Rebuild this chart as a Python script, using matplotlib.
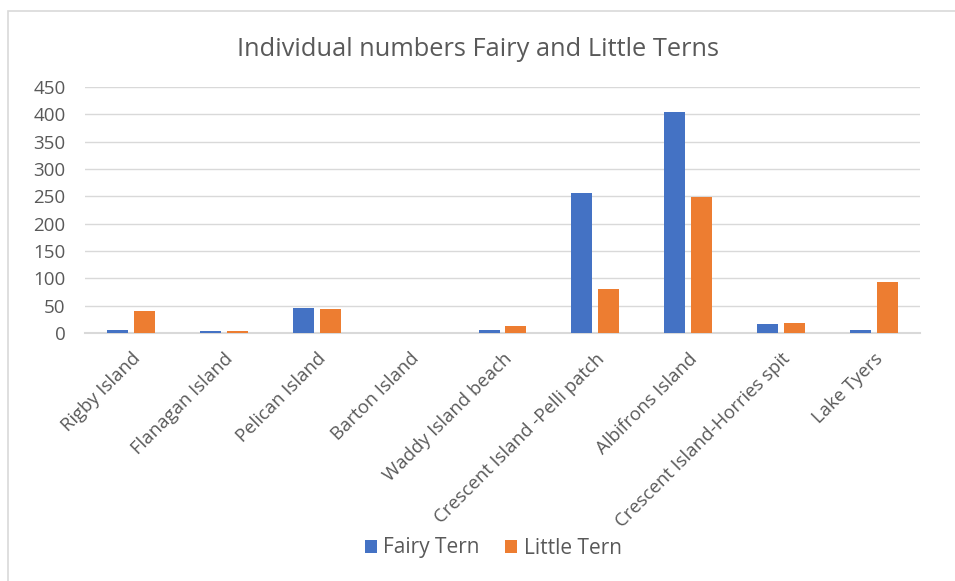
import matplotlib.pyplot as plt
import matplotlib.patches as pat
import numpy as np

plt.rcParams['font.family'] = ['Open Sans', 'DejaVu Sans']

sites = [
    "Rigby Island",
    "Flanagan Island",
    "Pelican Island",
    "Barton Island",
    "Waddy Island beach",
    "Crescent Island -Pelli patch",
    "Albifrons Island",
    "Crescent Island-Horries spit",
    "Lake Tyers",
]
fairy_tern = [5, 3, 46, 0, 6, 256, 404, 17, 6]
little_tern = [40, 3, 43, 0, 12, 81, 249, 18, 94]
yticks = [0, 50, 100, 150, 200, 250, 300, 350, 400, 450]

blue = "#4472C4"
orange = "#ED7D31"
grey = "#595959"

fig = plt.figure(figsize=(9.55, 5.81), dpi=100)
ax = fig.add_axes([85 / 955, 1 - 333 / 581, 835 / 955, 246 / 581])

# chart border (runs off the right and bottom edge)
fig.patches.append(pat.Rectangle((8 / 955, -0.1), 1.2, 1 - 11 / 581 + 0.1,
                                 transform=fig.transFigure, fill=False,
                                 edgecolor="#D9D9D9", linewidth=1.2))

x = np.arange(len(sites))
w = 0.226
ax.bar(x - 0.145, fairy_tern, w, color=blue, label="Fairy Tern", zorder=3)
ax.bar(x + 0.145, little_tern, w, color=orange, label="Little Tern", zorder=3)

ax.set_xlim(-0.5, len(sites) - 0.5)
ax.set_ylim(0, 450)
ax.set_yticks(yticks)
ax.grid(axis="y", color="#D9D9D9", linewidth=1, zorder=0)
for s in ["top", "right", "left"]:
    ax.spines[s].set_visible(False)
ax.spines["bottom"].set_color("#D9D9D9")
ax.spines["bottom"].set_linewidth(1.5)
ax.tick_params(axis="both", length=0, colors=grey, labelsize=13.5)
ax.tick_params(axis="y", pad=14)
ax.set_xticks(x)
ax.set_xticklabels(sites, rotation=45, ha="right", rotation_mode="anchor",
                   fontsize=13.3, color=grey)
ax.tick_params(axis="x", pad=12)

fig.text(0.5, 1 - 50 / 581, "Individual numbers Fairy and Little Terns",
         ha="center", va="center", fontsize=18.3, color=grey)

fig.legend(loc="center", bbox_to_anchor=(493 / 955, 1 - 548 / 581), ncol=2,
           frameon=False, fontsize=15, handlelength=0.6, handleheight=0.6,
           handletextpad=0.3, columnspacing=1.2, labelcolor=grey)

fig.savefig("out.png", dpi=100)
